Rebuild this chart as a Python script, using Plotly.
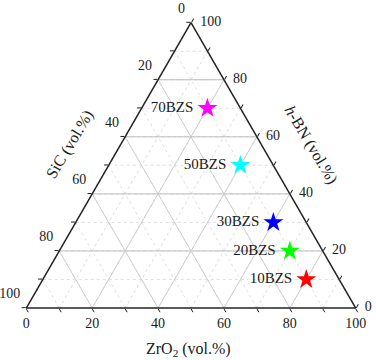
import plotly.graph_objects as go

# Sample compositions (vol.%)
samples = ["70BZS", "50BZS", "30BZS", "20BZS", "10BZS"]
hbn = [70, 50, 30, 20, 10]
sic = [10, 10, 10, 10, 10]
zro2 = [20, 40, 60, 70, 80]
colors = ["#ff00ff", "#00ffff", "#0000ff", "#00ff00", "#ff0000"]

# Axis tick labels (vol.%)
tick_major = [0, 20, 40, 60, 80, 100]
tick_all = [0, 10, 20, 30, 40, 50, 60, 70, 80, 90, 100]
grid_major = [20, 40, 60, 80]

FONT = "Liberation Serif"
TXT = "#1a1a1a"

W, H = 376, 360
fig = go.Figure()

# major (20 %) grid lines, solid
for v in grid_major:
    # constant h-BN (horizontal)
    fig.add_trace(go.Scatterternary(a=[v, v], b=[100 - v, 0], c=[0, 100 - v], mode="lines",
                                    line=dict(color="#bdbdbd", width=1),
                                    hoverinfo="skip", showlegend=False))
    # constant SiC
    fig.add_trace(go.Scatterternary(b=[v, v], a=[100 - v, 0], c=[0, 100 - v], mode="lines",
                                    line=dict(color="#cdcdcd", width=1),
                                    hoverinfo="skip", showlegend=False))
    # constant ZrO2
    fig.add_trace(go.Scatterternary(c=[v, v], a=[100 - v, 0], b=[0, 100 - v], mode="lines",
                                    line=dict(color="#cdcdcd", width=1),
                                    hoverinfo="skip", showlegend=False))

# tick labels
inv = "rgba(0,0,0,0)"
tfont = dict(family=FONT, size=14, color=TXT)
# SiC on the left edge
fig.add_trace(go.Scatterternary(a=[100 - v for v in tick_major], b=tick_major, c=[0] * 6,
                                mode="markers+text", text=[str(v) for v in tick_major],
                                textposition="top left", textfont=tfont,
                                marker=dict(size=8, color=inv), cliponaxis=False,
                                hoverinfo="skip", showlegend=False))
# ZrO2 on the bottom edge
fig.add_trace(go.Scatterternary(a=[0] * 6, b=[100 - v for v in tick_major], c=tick_major,
                                mode="markers+text", text=[str(v) for v in tick_major],
                                textposition="bottom center", textfont=tfont,
                                marker=dict(size=14, color=inv), cliponaxis=False,
                                hoverinfo="skip", showlegend=False))
# h-BN on the right edge
fig.add_trace(go.Scatterternary(a=tick_major, b=[0] * 6, c=[100 - v for v in tick_major],
                                mode="markers+text", text=[str(v) for v in tick_major],
                                textposition="middle right", textfont=tfont,
                                marker=dict(size=13, color=inv), cliponaxis=False,
                                hoverinfo="skip", showlegend=False))

# samples
for name, a, b, c, col in zip(samples, hbn, sic, zro2, colors):
    fig.add_trace(go.Scatterternary(a=[a], b=[b], c=[c], mode="markers+text",
                                    text=[name + " "], textposition="middle left",
                                    textfont=dict(family=FONT, size=15, color=TXT),
                                    marker=dict(symbol="star", size=15, color=col,
                                                line=dict(width=0)),
                                    cliponaxis=False, showlegend=False, hoverinfo="skip"))

axis_common = dict(
    tickmode="array", tickvals=tick_all, showticklabels=False,
    ticks="outside", ticklen=4, tickwidth=1, tickcolor="#222",
    linecolor="#222", linewidth=1.5, showline=True,
    showgrid=True, gridcolor="#e0e0e0", gridwidth=1, griddash="dot",
    title=dict(text=""),
)

fig.update_layout(
    width=W, height=H,
    margin=dict(l=0, r=0, t=0, b=0),
    paper_bgcolor="white",
    hovermode=False,
    ternary=dict(
        sum=100,
        bgcolor="white",
        domain=dict(x=[26 / W, 356 / W], y=[1 - 308 / H, 1 - 22.7 / H]),
        aaxis=axis_common,
        baxis=axis_common,
        caxis=axis_common,
    ),
    annotations=[
        dict(text="SiC (vol.%)", x=69.5 / W, y=1 - 145 / H, xref="paper", yref="paper",
             xanchor="center", yanchor="middle",
             showarrow=False, textangle=-59, font=dict(family=FONT, size=16, color=TXT)),
        dict(text="<i>h</i>-BN (vol.%)", x=311 / W, y=1 - 145 / H, xref="paper", yref="paper",
             xanchor="center", yanchor="middle",
             showarrow=False, textangle=59, font=dict(family=FONT, size=16, color=TXT)),
        dict(text="ZrO<sub>2</sub> (vol.%)", x=188 / W, y=1 - 349 / H, xref="paper", yref="paper",
             xanchor="center", yanchor="middle",
             showarrow=False, font=dict(family=FONT, size=16, color=TXT)),
    ],
)

fig.write_html("out.html", config={"displayModeBar": False},
               post_script="document.body.style.margin='0';")
